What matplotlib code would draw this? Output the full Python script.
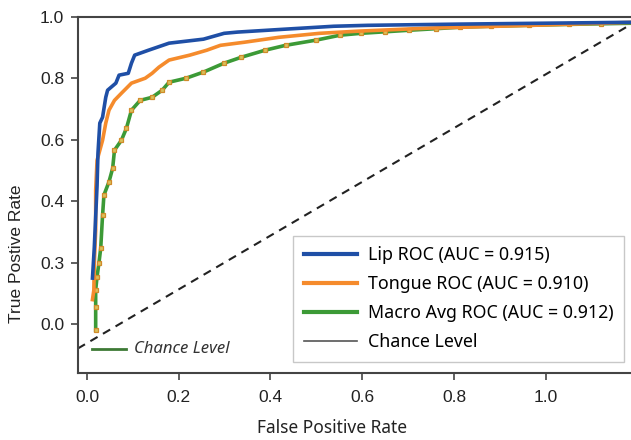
import matplotlib.pyplot as plt

# curve points (x = false positive rate, y = true positive rate)
lip_fpr = [0.012, 0.016, 0.019, 0.022, 0.024, 0.028, 0.034, 0.041, 0.045, 0.063, 0.070, 0.090,
           0.097, 0.104, 0.134, 0.179, 0.254, 0.299, 0.328, 0.426, 0.538, 0.612, 0.814, 1.194]
lip_tpr = [0.15, 0.25, 0.35, 0.45, 0.556, 0.654, 0.673, 0.738, 0.761, 0.784, 0.810, 0.816,
           0.849, 0.875, 0.891, 0.914, 0.927, 0.946, 0.950, 0.959, 0.969, 0.972, 0.976, 0.982]

tongue_fpr = [0.012, 0.015, 0.016, 0.019, 0.019, 0.022, 0.034, 0.041, 0.048, 0.060, 0.075,
              0.097, 0.127, 0.142, 0.157, 0.179, 0.224, 0.261, 0.291, 0.343, 0.418, 0.507,
              0.590, 0.746, 0.970, 1.194]
tongue_tpr = [0.08, 0.111, 0.198, 0.306, 0.436, 0.533, 0.598, 0.654, 0.696, 0.728, 0.751,
              0.784, 0.800, 0.816, 0.836, 0.859, 0.875, 0.891, 0.907, 0.917, 0.933, 0.946,
              0.953, 0.963, 0.972, 0.982]

macro_fpr = [0.019, 0.019, 0.019, 0.022, 0.026, 0.030, 0.034, 0.037, 0.048, 0.056, 0.060,
             0.075, 0.086, 0.097, 0.116, 0.142, 0.164, 0.179, 0.216, 0.254, 0.299, 0.336,
             0.388, 0.433, 0.500, 0.552, 0.597, 0.650, 0.702, 0.760, 0.814, 0.880, 0.963,
             1.05, 1.12, 1.194]
macro_tpr = [-0.020, 0.056, 0.111, 0.154, 0.198, 0.247, 0.354, 0.420, 0.463, 0.507, 0.566,
             0.598, 0.637, 0.696, 0.728, 0.738, 0.761, 0.787, 0.800, 0.820, 0.849, 0.868,
             0.891, 0.907, 0.924, 0.940, 0.946, 0.951, 0.956, 0.961, 0.966, 0.969, 0.972,
             0.975, 0.977, 0.979]

chance_x = [-0.02, 1.195]
chance_y = [-0.079, 0.983]

ytick_pos = [0.0, 0.2, 0.4, 0.6, 0.8, 1.0]
ytick_lab = ["0.0", "0.3", "0.4", "0.6", "0.8", "1.0"]
xtick_pos = [0.0, 0.2, 0.4, 0.6, 0.8, 1.0]

fig = plt.figure(figsize=(6.31, 4.40), dpi=100)
ax = fig.add_axes([0.124, 0.152, 0.90, 0.810])

ax.plot(chance_x, chance_y, ls=(0, (4, 3)), color="#222222", lw=1.5)
ax.plot(macro_fpr, macro_tpr, color="#3c9a36", lw=2.6, marker="s", ms=3.2,
        mfc="#d9c25a", mec="#d08a2a", mew=0.9, label="Macro Avg ROC (AUC = 0.912)")
ax.plot(tongue_fpr, tongue_tpr, color="#f58b2c", lw=2.6, label="Tongue ROC (AUC = 0.910)")
ax.plot(lip_fpr, lip_tpr, color="#1f4fa6", lw=2.6, label="Lip ROC (AUC = 0.915)")
chance_h, = ax.plot([], [], color="#555555", lw=1.2, label="Chance Level")

ax.set_xlim(-0.019, 1.219)
ax.set_ylim(-0.159, 1.0)
ax.set_xticks(xtick_pos)
ax.set_xticklabels(["%.1f" % v for v in xtick_pos])
ax.set_yticks(ytick_pos)
ax.set_yticklabels(ytick_lab)
ax.tick_params(length=5, width=1.2, color="#444444", labelsize=12.5,
               labelcolor="#222222", pad=5)
ax.tick_params(axis="x", pad=7)
for lab in ax.get_xticklabels() + ax.get_yticklabels():
    lab.set_family("Liberation Sans")

ax.spines["right"].set_visible(False)
for s in ["left", "bottom", "top"]:
    ax.spines[s].set_color("#444444")
    ax.spines[s].set_linewidth(1.5)

ax.set_xlabel("False Positive Rate", fontsize=12.5, family="Noto Sans", color="#222222")
ax.xaxis.set_label_coords(0.447, -0.128)
ax.set_ylabel("True Postive Rate", fontsize=12.5, family="Liberation Sans", color="#222222")
ax.yaxis.set_label_coords(-0.095, 0.334)

handles, labels = ax.get_legend_handles_labels()
order = [2, 1, 0, 3]
leg = ax.legend([handles[i] for i in order], [labels[i] for i in order],
                loc="lower left", bbox_to_anchor=(293 / 631, 1 - 362 / 440),
                bbox_transform=fig.transFigure, borderaxespad=0,
                prop={"family": "Noto Sans", "size": 12.8}, handlelength=3.0,
                handletextpad=0.6, labelspacing=0.62, fancybox=False,
                edgecolor="#c8c8c8", framealpha=1, borderpad=0.6)
leg.get_frame().set_linewidth(1.0)
for h in leg.get_lines()[:3]:
    h.set_linewidth(3.0)
    h.set_marker("")

# small note in the lower left corner
ax.plot([0.012, 0.086], [-0.080, -0.080], color="#3d7a35", lw=2.0)
ax.text(0.102, -0.080, "Chance Level", fontsize=12, style="italic",
        family="Noto Sans", color="#333333", va="center")

fig.savefig("out.png", dpi=100)
